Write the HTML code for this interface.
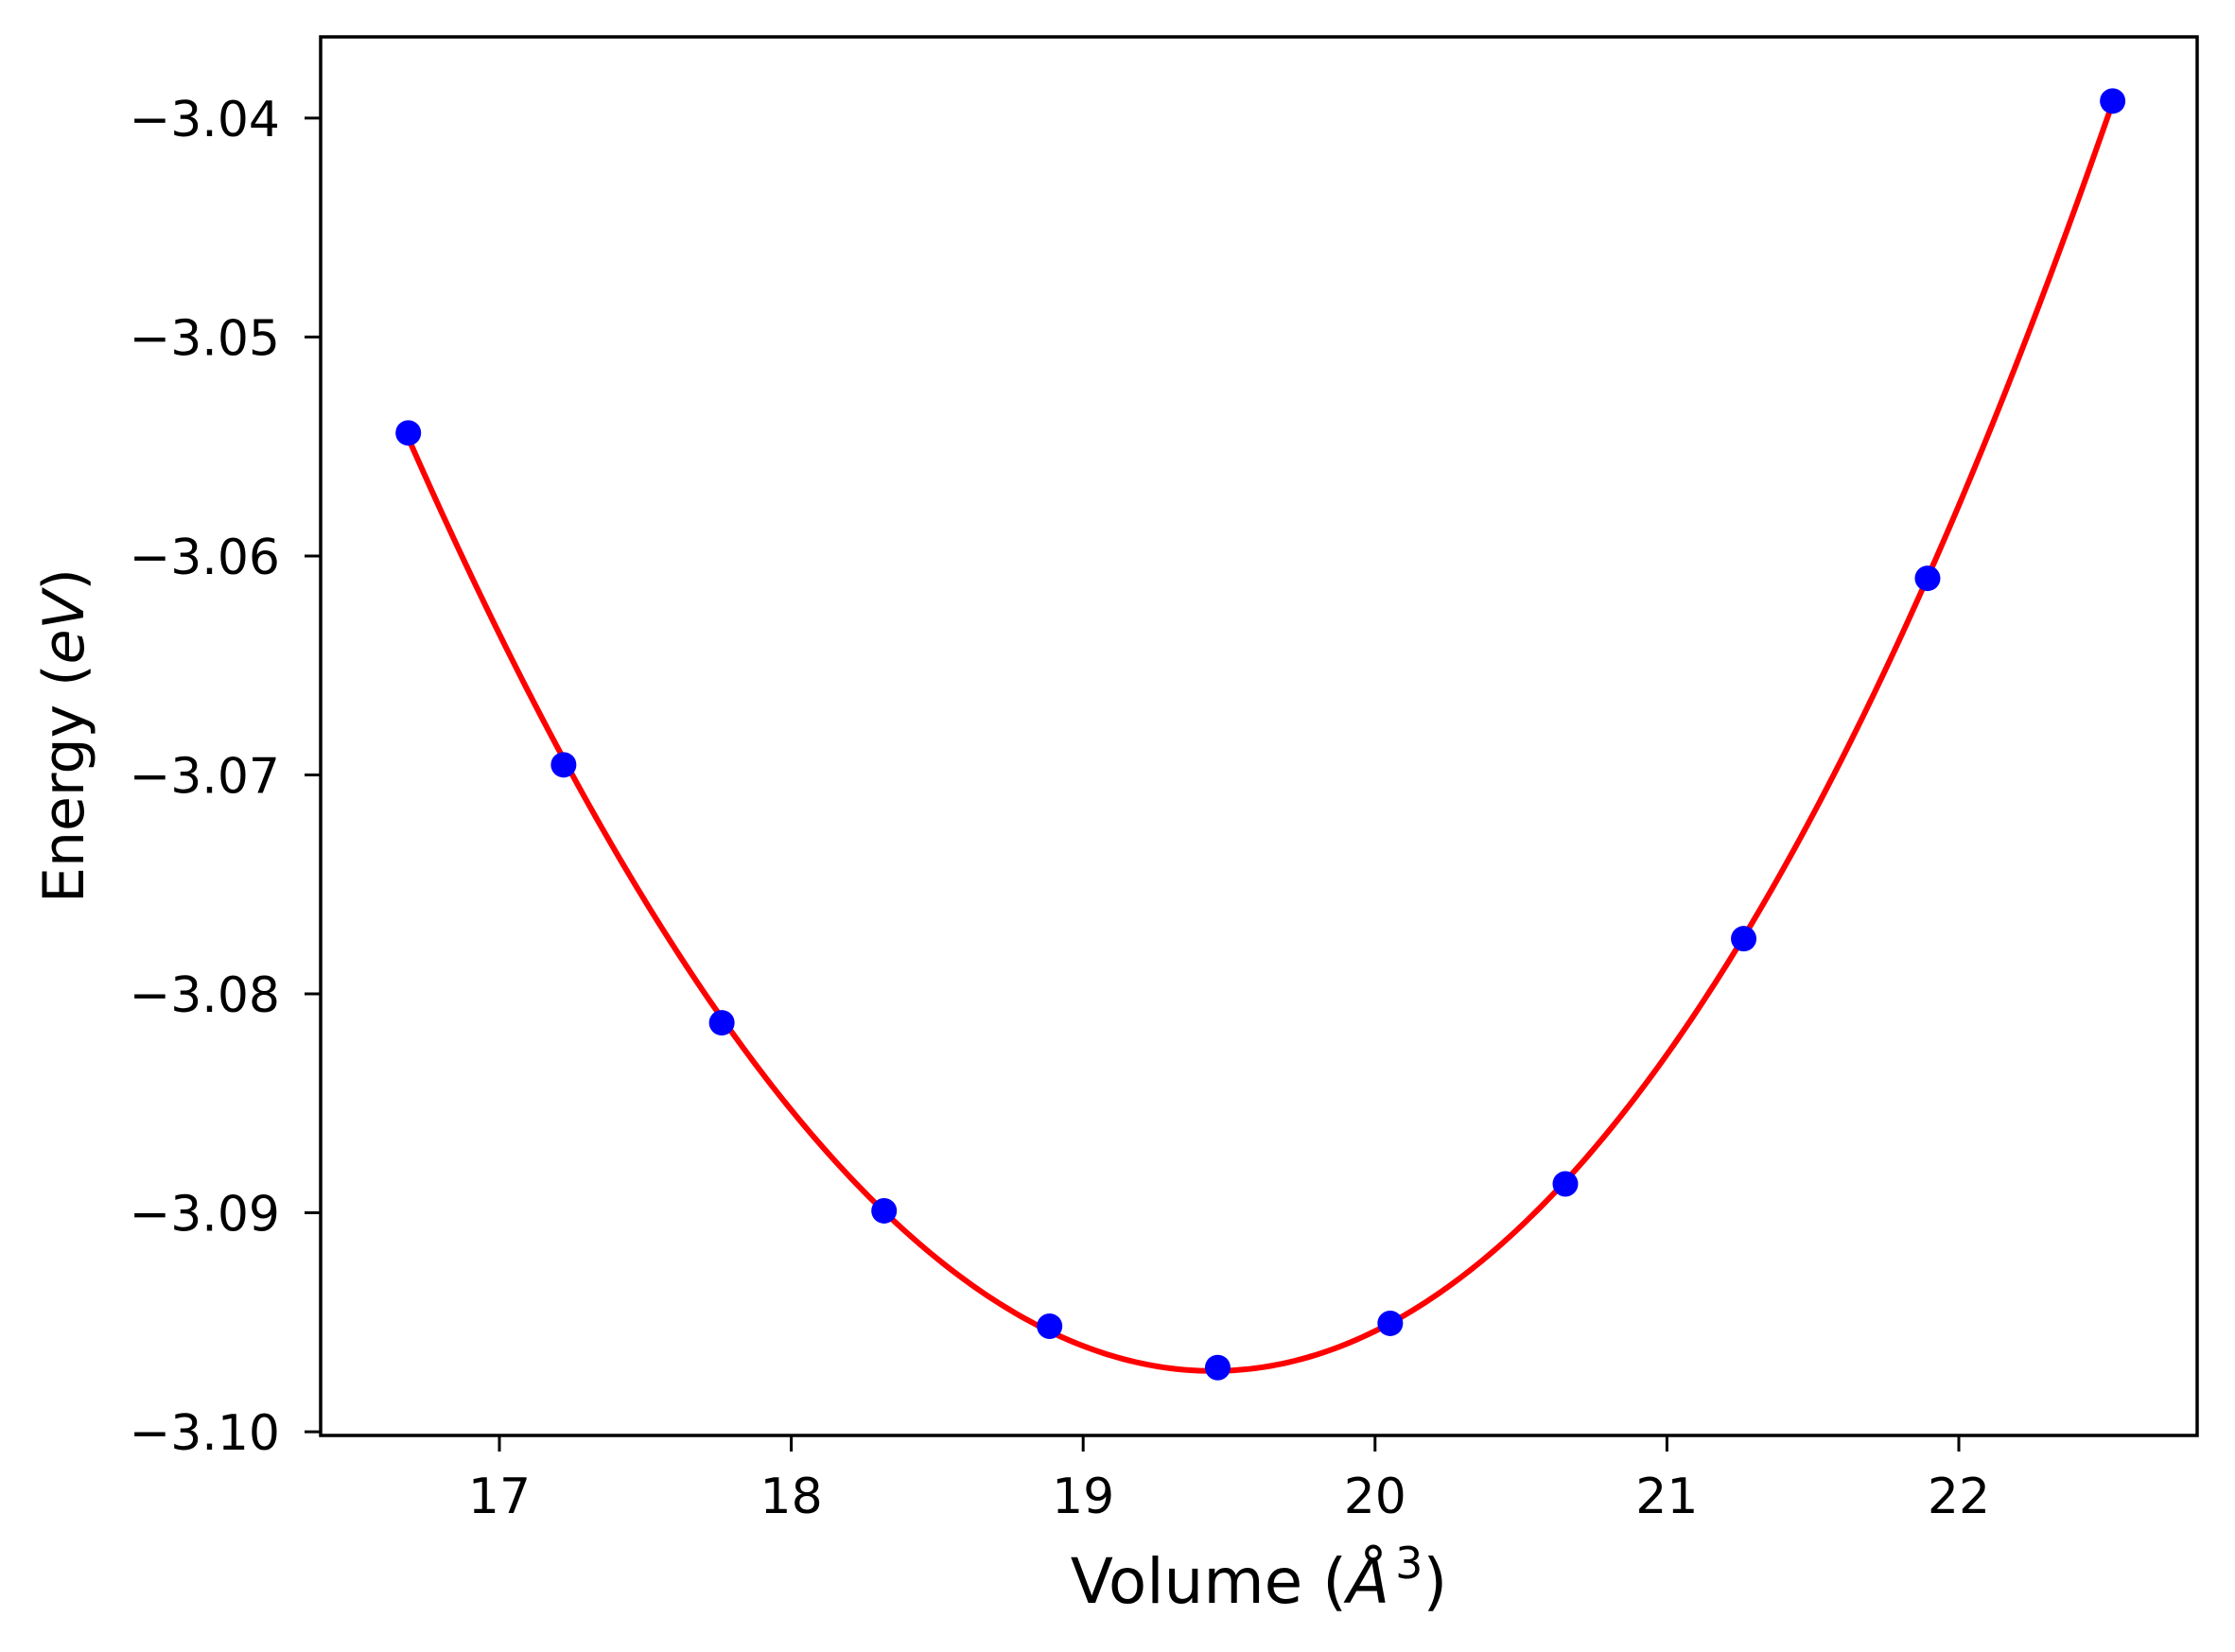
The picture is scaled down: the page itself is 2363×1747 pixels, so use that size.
<!DOCTYPE html>
<html><head><meta charset="utf-8"><style>
html,body{margin:0;padding:0;background:#fff;}
svg{display:block;font-family:"DejaVu Sans","Liberation Sans",sans-serif;}
</style></head><body>
<svg id="chart" width="2363" height="1747" viewBox="0 0 2363 1747" xmlns="http://www.w3.org/2000/svg">
<rect x="0" y="0" width="2363" height="1747" fill="#fff"/>
<g id="plot"></g>
<g id="axes"></g>
<text x="1331" y="1695" font-size="66" text-anchor="middle">Volume (<tspan font-style="italic">Å</tspan><tspan font-size="46" dx="6" dy="-26">3</tspan><tspan dy="26">)</tspan></text>
<text transform="translate(88,778) rotate(-90)" font-size="60" text-anchor="middle">Energy (<tspan font-style="italic">eV</tspan>)</text>
</svg>
<script>
const volumes = [16.688, 17.220, 17.762, 18.318, 18.885, 19.461, 20.052, 20.652, 21.263, 21.893, 22.527];
const energies = [-3.05438, -3.06954, -3.08132, -3.08991, -3.09518, -3.09707, -3.09505, -3.08868, -3.07748, -3.06102, -3.03922];
const xTicks = [17, 18, 19, 20, 21, 22];
const yTicks = [-3.10, -3.09, -3.08, -3.07, -3.06, -3.05, -3.04];
const yTickLabels = ["\u22123.10", "\u22123.09", "\u22123.08", "\u22123.07", "\u22123.06", "\u22123.05", "\u22123.04"];

const L = 339, R = 2323, T = 39, B = 1518;
const xMin = 16.3876, xMax = 22.8166, yMin = -3.10017, yMax = -3.03629;
const sx = v => L + (v - xMin) / (xMax - xMin) * (R - L);
const sy = v => B - (v - yMin) / (yMax - yMin) * (B - T);
const NS = "http://www.w3.org/2000/svg";
function mk(tag, attrs, parent) {
  const e = document.createElementNS(NS, tag);
  for (const k in attrs) e.setAttribute(k, attrs[k]);
  parent.appendChild(e);
  return e;
}
const plot = document.getElementById('plot');
const axes = document.getElementById('axes');

function fitCubic(xs, ys) {
  const n = 4, x0 = 19.5;
  const A = [...Array(n)].map(() => Array(n + 1).fill(0));
  xs.forEach((x, i) => {
    const p = [1, x - x0, (x - x0) ** 2, (x - x0) ** 3];
    for (let r = 0; r < n; r++) {
      for (let c = 0; c < n; c++) A[r][c] += p[r] * p[c];
      A[r][n] += p[r] * ys[i];
    }
  });
  for (let i = 0; i < n; i++) {
    let m = i;
    for (let k = i + 1; k < n; k++) if (Math.abs(A[k][i]) > Math.abs(A[m][i])) m = k;
    [A[i], A[m]] = [A[m], A[i]];
    for (let k = 0; k < n; k++) if (k !== i) {
      const f = A[k][i] / A[i][i];
      for (let c = i; c <= n; c++) A[k][c] -= f * A[i][c];
    }
  }
  const co = A.map((r, i) => r[n] / r[i]);
  return x => co[0] + co[1] * (x - x0) + co[2] * (x - x0) ** 2 + co[3] * (x - x0) ** 3;
}
const f = fitCubic(volumes, energies);
const v0 = volumes[0], v1 = volumes[volumes.length - 1];
let d = "";
for (let i = 0; i <= 300; i++) {
  const v = v0 + (v1 - v0) * i / 300;
  d += (i ? "L" : "M") + sx(v).toFixed(2) + "," + sy(f(v)).toFixed(2);
}
const fitLine = mk('path', {d: d, fill: 'none', stroke: '#ff0000', 'stroke-width': 6}, plot);



volumes.forEach((v, i) => {
  const c = mk('circle', {cx: sx(v), cy: sy(energies[i]), r: 13.5, fill: '#0000ff'}, plot);
  
  
});

const frame = mk('rect', {x: L, y: T, width: R - L, height: B - T, fill: 'none', stroke: '#000', 'stroke-width': 3.5}, axes);



xTicks.forEach(t => {
  const x = sx(t);
  const tk = mk('line', {x1: x, x2: x, y1: B, y2: B + 17, stroke: '#000', 'stroke-width': 3}, axes);
  
  
  const lb = mk('text', {x: x, y: 1600, 'font-size': 52, 'text-anchor': 'middle'}, axes);
  lb.textContent = String(t);
  
  
});
yTicks.forEach((t, i) => {
  const y = sy(t);
  const tk = mk('line', {x1: L - 17, x2: L, y1: y, y2: y, stroke: '#000', 'stroke-width': 3}, axes);
  
  
  const lb = mk('text', {x: 296, y: y + 19, 'font-size': 52, 'text-anchor': 'end'}, axes);
  lb.textContent = yTickLabels[i];
  
  
});
</script>
</body></html>
